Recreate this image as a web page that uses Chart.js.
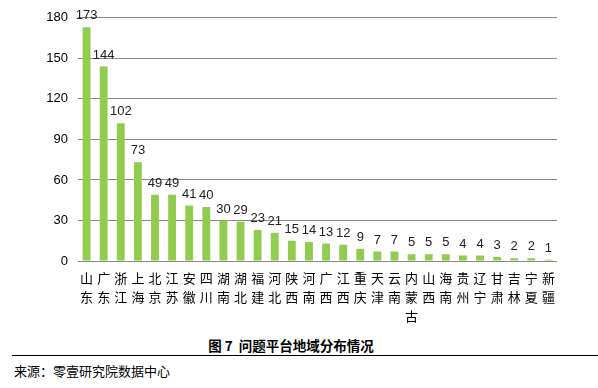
<!DOCTYPE html>
<html><head><meta charset="utf-8">
<script src="https://cdn.jsdelivr.net/npm/chart.js@4"></script>
<style>
html,body{margin:0;padding:0;background:#fff;width:598px;height:388px;overflow:hidden;font-family:"Noto Sans CJK SC",sans-serif;}
#wrap{position:absolute;left:0;top:0;width:598px;height:330px;}
#title{position:absolute;top:335px;left:202px;width:178px;text-align:center;font-size:13.5px;font-weight:bold;color:#000;white-space:nowrap;}
#line{position:absolute;top:355px;left:12px;width:586px;height:0;border-top:1.5px solid #000;}
#src{position:absolute;top:361px;left:14px;font-size:13px;color:#000;white-space:nowrap;}
</style></head>
<body>
<div id="wrap"><canvas id="c" width="598" height="330"></canvas></div>
<div id="title">图 7&nbsp;&nbsp;问题平台地域分布情况</div>
<div id="line"></div>
<div id="src">来源：零壹研究院数据中心</div>
<script>
const categories = ["山东","广东","浙江","上海","北京","江苏","安徽","四川","湖南","湖北","福建","河北","陕西","河南","广西","江西","重庆","天津","云南","内蒙古","山西","海南","贵州","辽宁","甘肃","吉林","宁夏","新疆"];
const values = [173,144,102,73,49,49,41,40,30,29,23,21,15,14,13,12,9,7,7,5,5,5,4,4,3,2,2,1];
const yTicks = [0,30,60,90,120,150,180];

const valueLabels = {
  id:'valueLabels',
  afterDatasetsDraw(chart){
    const ctx = chart.ctx;
    const meta = chart.getDatasetMeta(0);
    ctx.save();
    ctx.font = '13px "Liberation Sans", sans-serif';
    ctx.fillStyle = '#222';
    ctx.textAlign = 'center';
    ctx.textBaseline = 'bottom';
    meta.data.forEach((bar,i)=>{
      ctx.fillText(String(values[i]), bar.x, bar.y - 5);
    });
    ctx.restore();
  }
};

new Chart(document.getElementById('c'), {
  type:'bar',
  data:{
    labels: categories.map(s=>s.split('')),
    datasets:[{data:values, backgroundColor:'#91CB4F', barPercentage:0.92, categoryPercentage:0.5}]
  },
  options:{
    responsive:false, animation:false,
    layout:{padding:{top:15,right:41,left:0,bottom:0}},
    plugins:{legend:{display:false},tooltip:{enabled:false}},
    scales:{
      x:{
        grid:{display:false, drawTicks:false},
        border:{display:false},
        ticks:{color:'#000', font:{size:13, family:'"Noto Sans CJK SC"', lineHeight:1.45}, padding:8, maxRotation:0, autoSkip:false},
        afterFit(s){ s.height = 69; }
      },
      y:{
        min:0, max:180,
        afterBuildTicks(s){ s.ticks = yTicks.map(v=>({value:v})); },
        grid:{color:'#8a8a8a', drawTicks:false, lineWidth:1},
        border:{display:false},
        ticks:{color:'#000', font:{size:13, family:'"Liberation Sans"'}, padding:10},
        afterFit(s){ s.width = 78; }
      }
    }
  },
  plugins:[valueLabels]
});
</script>
</body></html>
